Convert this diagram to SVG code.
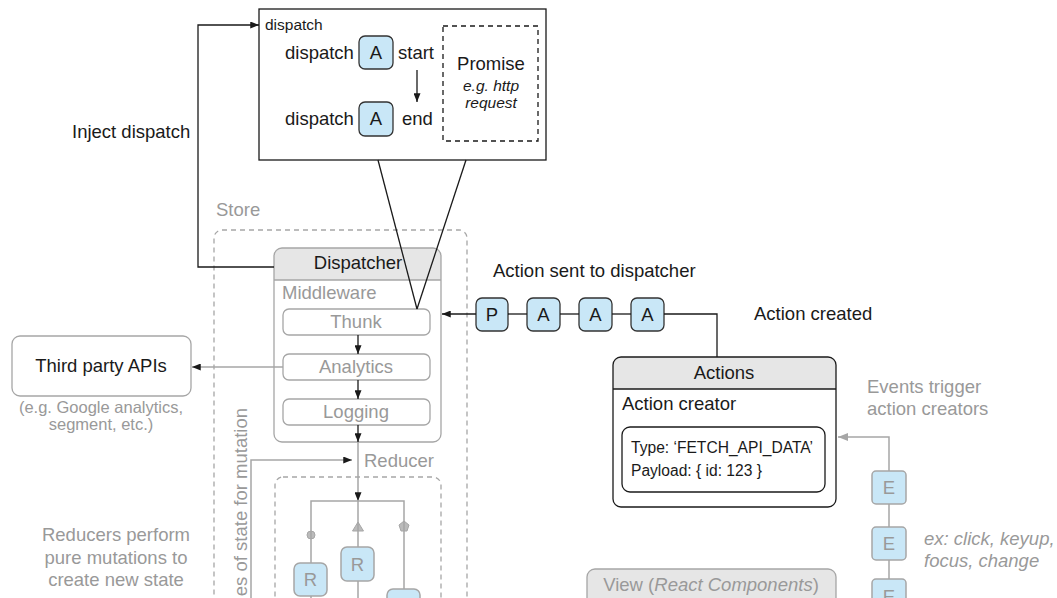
<svg xmlns="http://www.w3.org/2000/svg" width="1057" height="598" viewBox="0 0 1057 598">
<style>
text{font-family:"Liberation Sans",Arial,sans-serif;}
.t16{font-size:18.5px;fill:#1a1a1a;}
.g16{font-size:18.5px;fill:#999;}
.g13{font-size:16.5px;fill:#999;}
.b13{font-size:15.6px;fill:#1a1a1a;}
.it{font-style:italic;}
.mid{text-anchor:middle;}
.blk{fill:none;stroke:#1a1a1a;stroke-width:1.3;}
.gry{fill:none;stroke:#a6a6a6;stroke-width:1.5;}
.abox{fill:#c9e7f7;stroke:#333;stroke-width:1.3;}
.rbox{fill:#c9e7f7;stroke:#a6a6a6;stroke-width:1.5;}
.gbox{fill:#fff;stroke:#a6a6a6;stroke-width:1.3;}
.dash{fill:none;stroke:#a6a6a6;stroke-width:1.3;stroke-dasharray:5 4;}
.hdr{fill:#e6e6e6;}
</style>
<defs>
<marker id="ab" viewBox="0 0 10 8" refX="10" refY="4" markerWidth="10" markerHeight="7" orient="auto" markerUnits="userSpaceOnUse"><path d="M0,0 L10,4 L0,8 z" fill="#1a1a1a"/></marker>
<marker id="ag" viewBox="0 0 10 8" refX="10" refY="4" markerWidth="11" markerHeight="8" orient="auto" markerUnits="userSpaceOnUse"><path d="M0,0 L10,4 L0,8 z" fill="#a6a6a6"/></marker>
</defs>
<rect width="1057" height="598" fill="#fff"/>

<!-- Store container -->
<g id="store">
<rect x="214" y="230" width="253" height="420" rx="8" class="dash"/>
<text x="216" y="216" class="g16">Store</text>
</g>

<!-- Top dispatch box -->
<g id="dispatch-box">
<rect x="259" y="9" width="287" height="151" fill="#fff" stroke="#1a1a1a" stroke-width="1.3"/>
<text x="265" y="30" style="font-size:15.5px;fill:#1a1a1a">dispatch</text>
<text x="285" y="59" class="t16">dispatch</text>
<rect x="359" y="36" width="34" height="33" rx="6" class="abox"/>
<text x="376" y="59" class="t16 mid">A</text>
<text x="398" y="59" class="t16">start</text>
<text x="285" y="125" class="t16">dispatch</text>
<rect x="359" y="102" width="34" height="34" rx="6" class="abox"/>
<text x="376" y="125" class="t16 mid">A</text>
<text x="402" y="125" class="t16">end</text>
<line x1="417" y1="70" x2="417" y2="102" class="blk" marker-end="url(#ab)"/>
<rect x="443" y="26" width="95" height="115" fill="none" stroke="#1a1a1a" stroke-width="1.3" stroke-dasharray="5 4"/>
<text x="491" y="70" class="t16 mid">Promise</text>
<text x="491" y="91" class="mid it" style="font-size:15.5px;fill:#1a1a1a">e.g. http</text>
<text x="491" y="108" class="mid it" style="font-size:15.5px;fill:#1a1a1a">request</text>
</g>

<!-- Dispatcher -->
<g id="dispatcher">
<path d="M274,280 V256 a8,8 0 0 1 8,-8 H433 a8,8 0 0 1 8,8 V280 z" class="hdr"/>
<rect x="274" y="248" width="167" height="194" rx="8" fill="none" stroke="#a6a6a6" stroke-width="1.3"/>
<line x1="274" y1="280" x2="441" y2="280" stroke="#a6a6a6" stroke-width="1.3"/>
<text x="358" y="269" class="t16 mid">Dispatcher</text>
<text x="282" y="299" class="g16">Middleware</text>
</g>
<g id="thunk">
<rect x="283" y="309" width="147" height="26" rx="6" class="gbox"/>
<text x="356" y="328" class="g16 mid">Thunk</text>
</g>
<g id="analytics">
<rect x="283" y="354" width="147" height="26" rx="6" class="gbox"/>
<text x="356" y="373" class="g16 mid">Analytics</text>
</g>
<g id="logging">
<rect x="283" y="399" width="147" height="26" rx="6" class="gbox"/>
<text x="356" y="418" class="g16 mid">Logging</text>
</g>

<!-- Third party -->
<g id="third-party">
<rect x="12" y="336" width="179" height="60" rx="8" class="gbox"/>
<text x="101" y="372" class="t16 mid">Third party APIs</text>
<text x="101" y="413" class="g13 mid">(e.g. Google analytics,</text>
<text x="101" y="430" class="g13 mid">segment, etc.)</text>
</g>

<!-- Reducer -->
<g id="reducer">
<text x="364" y="467" class="g16">Reducer</text>
<rect x="275" y="477" width="166" height="200" rx="8" class="dash"/>
<circle cx="311" cy="535" r="4" fill="#bbb" stroke="#a6a6a6" stroke-width="1"/>
<polygon points="358,522 352.5,531 363.5,531" fill="#bbb" stroke="#a6a6a6" stroke-width="1"/>
<polygon points="404,521 409,525 407,531 401,531 399,525" fill="#bbb" stroke="#a6a6a6" stroke-width="1"/>
</g>
<g id="r1">
<rect x="294" y="563" width="33" height="33" rx="6" class="rbox"/>
<text x="310.5" y="586" class="g16 mid">R</text>
</g>
<g id="r2">
<rect x="341" y="547" width="33" height="34" rx="6" class="rbox"/>
<text x="357.5" y="571" class="g16 mid">R</text>
</g>
<g id="r3">
<rect x="387" y="589" width="33" height="33" rx="6" class="rbox"/>
</g>

<!-- Texts -->
<g id="labels">
<text x="72" y="138" class="t16">Inject dispatch</text>
<text x="493" y="277" class="t16">Action sent to dispatcher</text>
<text x="754" y="320" class="t16">Action created</text>
<text transform="translate(247,408) rotate(-90)" class="g16" text-anchor="end">es of state for mutation</text>
<text x="116" y="541" class="g16 mid">Reducers perform</text>
<text x="116" y="564" class="g16 mid">pure mutations to</text>
<text x="116" y="586" class="g16 mid">create new state</text>
<text x="867" y="393" class="g16">Events trigger</text>
<text x="867" y="415" class="g16">action creators</text>
<text x="924" y="545" class="g16 it">ex: click, keyup,</text>
<text x="924" y="567" class="g16 it">focus, change</text>
</g>

<!-- Action chain -->
<g id="p1"><rect x="476" y="298" width="32" height="33" rx="6" class="abox"/><text x="492" y="321" class="t16 mid">P</text></g>
<g id="a1"><rect x="527" y="298" width="33" height="33" rx="6" class="abox"/><text x="543.5" y="321" class="t16 mid">A</text></g>
<g id="a2"><rect x="579" y="298" width="33" height="33" rx="6" class="abox"/><text x="595.5" y="321" class="t16 mid">A</text></g>
<g id="a3"><rect x="631" y="298" width="33" height="33" rx="6" class="abox"/><text x="647.5" y="321" class="t16 mid">A</text></g>

<!-- Actions -->
<g id="actions">
<path d="M613,389 V365 a8,8 0 0 1 8,-8 H828 a8,8 0 0 1 8,8 V389 z" class="hdr"/>
<rect x="613" y="357" width="223" height="150" rx="8" fill="none" stroke="#1a1a1a" stroke-width="1.3"/>
<line x1="613" y1="389" x2="836" y2="389" stroke="#1a1a1a" stroke-width="1.3"/>
<text x="724" y="379" class="t16 mid">Actions</text>
<text x="622" y="410" class="t16">Action creator</text>
<rect x="622" y="427" width="203" height="65" rx="8" fill="#fff" stroke="#1a1a1a" stroke-width="1.3"/>
<text x="631" y="453" class="b13">Type: ‘FETCH_API_DATA’</text>
<text x="631" y="476" class="b13">Payload: { id: 123 }</text>
</g>

<!-- Events -->
<g id="e1"><rect x="872" y="471" width="34" height="33" rx="4" class="rbox"/><text x="889" y="494" class="g16 mid">E</text></g>
<g id="e2"><rect x="872" y="527" width="34" height="33" rx="4" class="rbox"/><text x="889" y="550" class="g16 mid">E</text></g>
<g id="e3"><rect x="872" y="579" width="34" height="33" rx="4" class="rbox"/><text x="889" y="603" class="g16 mid">E</text></g>

<!-- View -->
<g id="view">
<rect x="587" y="569" width="249" height="60" rx="8" fill="#e6e6e6" stroke="#a6a6a6" stroke-width="1.3"/>
<text x="711" y="591" class="g16 mid">View (<tspan class="it">React Components</tspan>)</text>
</g>

<!-- Connectors -->
<g id="connectors">
<polyline points="274,267 198,267 198,25 259,25" class="blk" marker-end="url(#ab)"/>
<line x1="378" y1="160" x2="417" y2="309" class="blk"/>
<line x1="466" y1="160" x2="417" y2="309" class="blk"/>
<line x1="358" y1="335" x2="358" y2="354" class="blk" marker-end="url(#ab)"/>
<line x1="358" y1="380" x2="358" y2="399" class="blk" marker-end="url(#ab)"/>
<line x1="358" y1="425" x2="358" y2="442" class="blk" marker-end="url(#ab)"/>
<line x1="283" y1="367" x2="192" y2="367" class="gry" marker-end="url(#ab)"/>
<line x1="358" y1="442" x2="358" y2="501" class="gry" marker-end="url(#ab)"/>
<polyline points="251,600 251,460 352,460" class="gry" marker-end="url(#ab)"/>
<polyline points="311,563 311,501 404,501 404,589" class="gry"/>
<line x1="358" y1="501" x2="358" y2="547" class="gry"/>
<line x1="311" y1="596" x2="311" y2="600" class="gry"/>
<line x1="358" y1="581" x2="358" y2="600" class="gry"/>
<line x1="476" y1="314" x2="442" y2="314" class="blk" marker-end="url(#ab)"/>
<line x1="508" y1="314" x2="527" y2="314" class="blk"/>
<line x1="560" y1="314" x2="579" y2="314" class="blk"/>
<line x1="612" y1="314" x2="631" y2="314" class="blk"/>
<polyline points="664,314 717,314 717,357" class="blk"/>
<polyline points="889,471 889,437 838,437" class="gry" marker-end="url(#ag)"/>
<line x1="889" y1="504" x2="889" y2="527" class="gry"/>
<line x1="889" y1="560" x2="889" y2="579" class="gry"/>
</g>
</svg>
